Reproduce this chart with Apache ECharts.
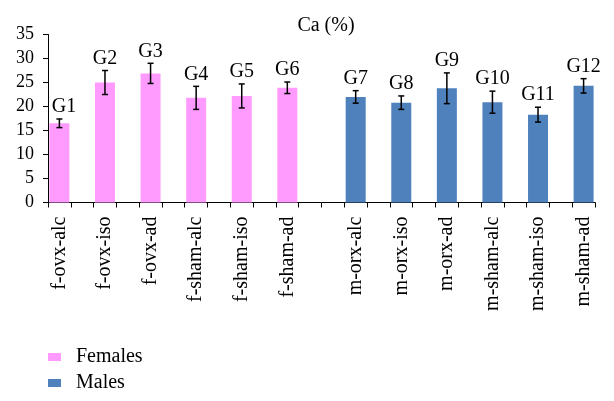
<!DOCTYPE html>
<html>
<head>
<meta charset="utf-8">
<script src="https://cdn.jsdelivr.net/npm/echarts@6/dist/echarts.min.js"></script>
<style>
html,body{margin:0;padding:0;background:#fff;}
#chart{width:614px;height:401px;}
</style>
</head>
<body>
<div id="chart"></div>
<script>
const titleText = 'Ca (%)';
const femaleLabels = ['f-ovx-alc', 'f-ovx-iso', 'f-ovx-ad', 'f-sham-alc', 'f-sham-iso', 'f-sham-ad'];
const maleLabels = ['m-orx-alc', 'm-orx-iso', 'm-orx-ad', 'm-sham-alc', 'm-sham-iso', 'm-sham-ad'];
const femaleValues = [16.5, 25.0, 26.9, 21.8, 22.2, 23.9];
const femaleErrors = [0.9, 2.5, 2.1, 2.4, 2.5, 1.2];
const maleValues = [22.0, 20.8, 23.8, 20.9, 18.3, 24.3];
const maleErrors = [1.3, 1.4, 3.2, 2.3, 1.55, 1.5];
const femaleGroups = ['G1', 'G2', 'G3', 'G4', 'G5', 'G6'];
const maleGroups = ['G7', 'G8', 'G9', 'G10', 'G11', 'G12'];
const yTicks = [0, 5, 10, 15, 20, 25, 30, 35];

// Category slots: each bar followed by an empty slot, extra empty slot between sexes
const slotCount = 24;
const femaleSlot = i => 2 * i;
const maleSlot = i => 13 + 2 * i;

const categories = new Array(slotCount).fill('');
const femaleData = new Array(slotCount).fill(null);
const maleData = new Array(slotCount).fill(null);
const errData = [];
femaleLabels.forEach((l, i) => {
  const s = femaleSlot(i);
  categories[s] = l;
  femaleData[s] = femaleValues[i];
  errData.push([s, femaleValues[i] - femaleErrors[i], femaleValues[i] + femaleErrors[i], femaleGroups[i]]);
});
maleLabels.forEach((l, i) => {
  const s = maleSlot(i);
  categories[s] = l;
  maleData[s] = maleValues[i];
  errData.push([s, maleValues[i] - maleErrors[i], maleValues[i] + maleErrors[i], maleGroups[i]]);
});

const FONT = '"Liberation Serif", "Times New Roman", serif';
const GRID_LEFT = 48;
const chart = echarts.init(document.getElementById('chart'), null, {renderer: 'canvas'});
chart.setOption({
  animation: false,
  backgroundColor: '#ffffff',
  title: {
    text: titleText,
    left: 321, top: 11,
    textAlign: 'center',
    textStyle: {fontFamily: FONT, fontSize: 20, fontWeight: 'normal', color: '#000'}
  },
  legend: {
    orient: 'vertical',
    left: 48, top: 347, bottom: 0,
    padding: 0,
    icon: 'rect',
    itemWidth: 13, itemHeight: 8,
    itemGap: 6,
    textStyle: {fontFamily: FONT, fontSize: 20, color: '#000', lineHeight: 20},
    formatter: function (n) { return '  ' + n; },
    data: ['Females', 'Males']
  },
  grid: {left: GRID_LEFT, right: 19, top: 34.5, bottom: 198.5, containLabel: false},
  xAxis: {
    type: 'category',
    data: categories,
    boundaryGap: true,
    axisLine: {lineStyle: {color: '#000', width: 1}},
    axisTick: {show: true, interval: 0, length: 5, inside: false, lineStyle: {color: '#000'}},
    axisLabel: {interval: 0, rotate: 90, margin: 14, fontFamily: FONT, fontSize: 20, color: '#000'},
    splitLine: {show: false}
  },
  yAxis: {
    type: 'value',
    min: yTicks[0], max: yTicks[yTicks.length - 1], interval: 5,
    axisLine: {show: true, lineStyle: {color: '#000', width: 1}},
    axisTick: {show: true, length: 5, lineStyle: {color: '#000'}},
    axisLabel: {margin: 14, fontFamily: FONT, fontSize: 18, color: '#000'},
    splitLine: {show: false}
  },
  series: [
    {
      name: 'Females', type: 'bar', data: femaleData,
      barWidth: 20, barGap: '-100%',
      itemStyle: {color: '#FF9BFF'}
    },
    {
      name: 'Males', type: 'bar', data: maleData,
      barWidth: 20, barGap: '-100%',
      itemStyle: {color: '#4F81BD'}
    },
    {
      name: 'err', type: 'custom', data: errData,
      encode: {x: 0, y: [1, 2]},
      z: 10,
      renderItem: function (params, api) {
        const x = api.value(0);
        const lo = api.coord([x, api.value(1)]);
        const hi = api.coord([x, api.value(2)]);
        const hw = 3;
        const style = {stroke: '#000', lineWidth: 1.5};
        // keep the group label clear of the y axis line
        const tx = Math.max(hi[0], GRID_LEFT + 16);
        return {
          type: 'group',
          children: [
            {type: 'line', shape: {x1: lo[0], y1: lo[1], x2: hi[0], y2: hi[1]}, style: style},
            {type: 'line', shape: {x1: lo[0] - hw, y1: lo[1], x2: lo[0] + hw, y2: lo[1]}, style: style},
            {type: 'line', shape: {x1: hi[0] - hw, y1: hi[1], x2: hi[0] + hw, y2: hi[1]}, style: style},
            {type: 'text', x: tx, y: hi[1] - 2,
             style: {text: api.value(3), fontFamily: FONT, fontSize: 20, fill: '#000', align: 'center', verticalAlign: 'bottom'}}
          ]
        };
      }
    }
  ]
});
</script>
</body>
</html>
